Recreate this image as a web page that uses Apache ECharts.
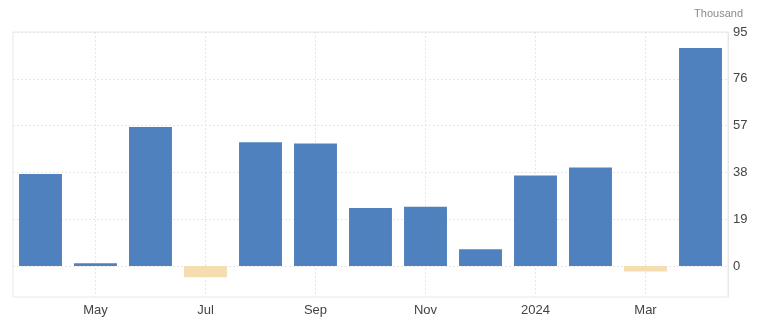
<!DOCTYPE html>
<html><head><meta charset="utf-8">
<script src="https://cdn.jsdelivr.net/npm/echarts@6/dist/echarts.min.js"></script>
<style>html,body{margin:0;padding:0;background:#fff}#c{width:768px;height:321px}</style>
</head><body><div id="c"></div>
<script>
const categories = ['Apr','May','Jun','Jul','Aug','Sep','Oct','Nov','Dec','2024','Feb','Mar','Apr'];
const values = [37.3, 1.1, 56.4, -4.6, 50.2, 49.7, 23.5, 24.0, 6.8, 36.7, 40.0, -2.2, 88.5];
const yTicks = [0, 19, 38, 57, 76, 95];
const unitLabel = 'Thousand';

const chart = echarts.init(document.getElementById('c'));
chart.setOption({
  animation: false,
  backgroundColor: '#fff',
  title: {
    text: unitLabel, right: 20, top: 3,
    textStyle: {fontSize: 11, fontWeight: 'normal', color: '#8a8a8a', fontFamily: 'Liberation Sans Narrow, Liberation Sans, Arial'}
  },
  grid: {left: 13, right: 40, top: 32, bottom: 24, show: true, borderColor: '#e8e8e8', borderWidth: 1},
  xAxis: {
    type: 'category', data: categories, boundaryGap: true,
    axisLine: {show: false}, axisTick: {show: false, alignWithLabel: true},
    axisLabel: {interval: (i) => i % 2 === 1, color: '#444', fontSize: 13, margin: 7,
      fontFamily: 'Liberation Sans Narrow, Liberation Sans, Arial'},
    splitLine: {show: true, alignWithLabel: true, interval: (i) => i % 2 === 1, lineStyle: {color: '#e6e6e6', type: [2, 2]}}
  },
  yAxis: {
    type: 'value', position: 'right', min: -12.6, max: 95,
    axisLine: {show: true, lineStyle: {color: '#e8e8e8'}},
    axisTick: {show: false, customValues: yTicks},
    axisLabel: {customValues: yTicks, color: '#444', fontSize: 13, margin: 5,
      fontFamily: 'Liberation Sans Narrow, Liberation Sans, Arial'},
    splitLine: {show: true, lineStyle: {color: '#e6e6e6', type: [2, 2]}}
  },
  series: [{
    type: 'bar', data: values.map(v => ({value: v, itemStyle: {color: v < 0 ? '#f5ddb2' : '#4e81bd'}})),
    barWidth: '78%'
  }]
});
</script></body></html>
